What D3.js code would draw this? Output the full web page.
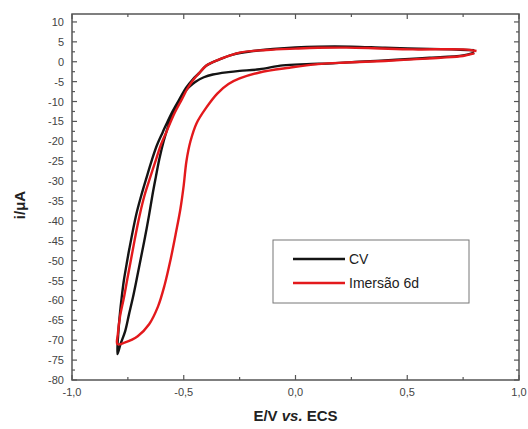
<!DOCTYPE html>
<html>
<head>
<meta charset="utf-8">
<script src="https://cdn.jsdelivr.net/npm/d3@7"></script>
<style>
  html, body { margin: 0; padding: 0; background: #fff; }
  svg { display: block; font-family: "Liberation Sans", Arial, sans-serif; }
  .tick-label { font-size: 11px; fill: #444; }
  .axis-title { font-size: 15px; font-weight: bold; fill: #222; }
  .legend-text { font-size: 14px; fill: #222; }
</style>
</head>
<body>
<svg id="chart" width="528" height="429"></svg>
<script>
// CV loop, black: upper branch from +0.8 down to the tip, then inner branch back
var cvE = [0.80, 0.70, 0.55, 0.40, 0.25, 0.10, 0.00, -0.10, -0.20, -0.28, -0.34, -0.40, -0.43, -0.459, -0.49, -0.519, -0.555, -0.594, -0.62, -0.642, -0.668, -0.692, -0.713, -0.743, -0.756, -0.768, -0.778, -0.785, -0.792, -0.797,
           -0.783, -0.762, -0.745, -0.728, -0.71, -0.692, -0.673, -0.655, -0.64, -0.625, -0.609, -0.59, -0.565, -0.535, -0.505, -0.477, -0.447, -0.41, -0.37, -0.30, -0.25, -0.161, -0.057, 0.05, 0.166, 0.286, 0.45, 0.60, 0.75, 0.80];
var cvI = [2.9, 3.1, 3.3, 3.5, 3.8, 3.8, 3.6, 3.2, 2.6, 1.8, 0.6, -1.0, -2.8, -4.4, -6.6, -9.4, -13.0, -17.7, -21.0, -24.6, -29.4, -34.0, -38.5, -46.9, -51.0, -55.0, -59.4, -63.0, -67.6, -73.5,
           -71.0, -67.7, -63.5, -59.4, -54.5, -49.4, -44.0, -38.5, -33.5, -29.0, -24.4, -20.0, -15.5, -11.5, -8.3, -6.4, -5.0, -3.9, -3.2, -2.6, -2.3, -1.9, -0.9, -0.6, -0.4, 0.0, 0.5, 1.0, 1.6, 2.3];

// Imersão 6d loop, red
var imE = [0.81, 0.75, 0.525, 0.35, 0.227, 0.10, 0.00, -0.13, -0.25, -0.34, -0.40, -0.43, -0.455, -0.482, -0.508, -0.542, -0.578, -0.603, -0.623, -0.652, -0.675, -0.697, -0.717, -0.735, -0.752, -0.768, -0.785, -0.795, -0.797,
           -0.765, -0.706, -0.655, -0.615, -0.585, -0.56, -0.535, -0.515, -0.50, -0.488, -0.470, -0.443, -0.40, -0.35, -0.30, -0.25, -0.161, -0.027, 0.10, 0.227, 0.40, 0.525, 0.65, 0.749, 0.80];
var imI = [2.7, 3.1, 3.1, 3.4, 3.55, 3.5, 3.3, 2.95, 2.3, 0.6, -1.0, -2.8, -4.4, -6.6, -9.4, -13.0, -17.7, -21.0, -24.4, -29.4, -33.5, -38.5, -44.0, -49.4, -54.5, -59.4, -64.0, -68.5, -71.0,
           -70.6, -69.0, -66.0, -61.5, -56.0, -50.0, -43.0, -37.0, -31.0, -25.0, -20.0, -15.5, -11.6, -8.0, -5.6, -4.2, -2.7, -1.5, -0.6, -0.2, 0.2, 0.6, 1.0, 1.45, 2.1];

var seriesNames = ["CV", "Imersão 6d"];
var seriesColors = ["#141414", "#e3191c"];
var xTicks = [-1.0, -0.5, 0.0, 0.5, 1.0];
var yTicks = [10, 5, 0, -5, -10, -15, -20, -25, -30, -35, -40, -45, -50, -55, -60, -65, -70, -75, -80];

var svg = d3.select("#chart");
var mLeft = 72, mRight = 519, mTop = 14, mBottom = 380;

var x = d3.scaleLinear().domain([-1, 1]).range([mLeft, mRight]);
var y = d3.scaleLinear().domain([-80, 12]).range([mBottom, mTop]);

var fmt = function(v) { return d3.format(".1f")(v).replace("\u2212", "-").replace(".", ","); };

// curves
var line = d3.line()
  .x(function(d) { return x(d[0]); })
  .y(function(d) { return y(d[1]); })
  .curve(d3.curveCatmullRom.alpha(0.5));

var series = [d3.zip(cvE, cvI), d3.zip(imE, imI)];
series.forEach(function(s, i) {
  svg.append("path")
    .datum(s)
    .attr("fill", "none")
    .attr("stroke", seriesColors[i])
    .attr("stroke-width", 2.4)
    .attr("stroke-linejoin", "round")
    .attr("d", line);
});

// frame
svg.append("rect")
  .attr("x", mLeft).attr("y", mTop)
  .attr("width", mRight - mLeft).attr("height", mBottom - mTop)
  .attr("fill", "none").attr("stroke", "#555").attr("stroke-width", 1.5);

// ticks, inward on all four sides
var tk = svg.append("g").attr("stroke", "#555").attr("stroke-width", 1.2);
var xMinor = d3.range(-1, 1.001, 0.25);
xMinor.forEach(function(v) {
  var major = Math.abs(v * 2 - Math.round(v * 2)) < 1e-6;
  var len = major ? 5 : 3;
  tk.append("line").attr("x1", x(v)).attr("x2", x(v)).attr("y1", mBottom).attr("y2", mBottom - len);
  tk.append("line").attr("x1", x(v)).attr("x2", x(v)).attr("y1", mTop).attr("y2", mTop + len);
});
var yMinor = d3.range(-80, 12.01, 2.5);
yMinor.forEach(function(v) {
  var major = v % 5 === 0;
  var len = major ? 5 : 3;
  tk.append("line").attr("y1", y(v)).attr("y2", y(v)).attr("x1", mLeft).attr("x2", mLeft + len);
  tk.append("line").attr("y1", y(v)).attr("y2", y(v)).attr("x1", mRight).attr("x2", mRight - len);
});

// tick labels
svg.selectAll(".xl").data(xTicks).enter().append("text")
  .attr("class", "tick-label")
  .attr("x", function(d) { return x(d); })
  .attr("y", mBottom + 16)
  .attr("text-anchor", "middle")
  .text(fmt);

svg.selectAll(".yl").data(yTicks).enter().append("text")
  .attr("class", "tick-label")
  .attr("x", mLeft - 8)
  .attr("y", function(d) { return y(d) + 4; })
  .attr("text-anchor", "end")
  .text(function(d) { return d; });

// axis titles
var xt = svg.append("text").attr("class", "axis-title")
  .attr("x", x(0)).attr("y", 421).attr("text-anchor", "middle");
xt.append("tspan").text("E/V ");
xt.append("tspan").attr("font-style", "italic").text("vs.");
xt.append("tspan").text(" ECS");

svg.append("text").attr("class", "axis-title")
  .attr("transform", "translate(25,205) rotate(-90)")
  .attr("text-anchor", "middle")
  .text("i/μA");

// legend
var lg = svg.append("g");
lg.append("rect")
  .attr("x", 273).attr("y", 240).attr("width", 196).attr("height", 63)
  .attr("fill", "#fff").attr("stroke", "#777").attr("stroke-width", 1);
seriesNames.forEach(function(name, i) {
  var ly = 259 + i * 24;
  lg.append("line")
    .attr("x1", 293).attr("x2", 345).attr("y1", ly).attr("y2", ly)
    .attr("stroke", seriesColors[i]).attr("stroke-width", 2.4);
  lg.append("text").attr("class", "legend-text")
    .attr("x", 349).attr("y", ly + 5)
    .text(name);
});
</script>
</body>
</html>
